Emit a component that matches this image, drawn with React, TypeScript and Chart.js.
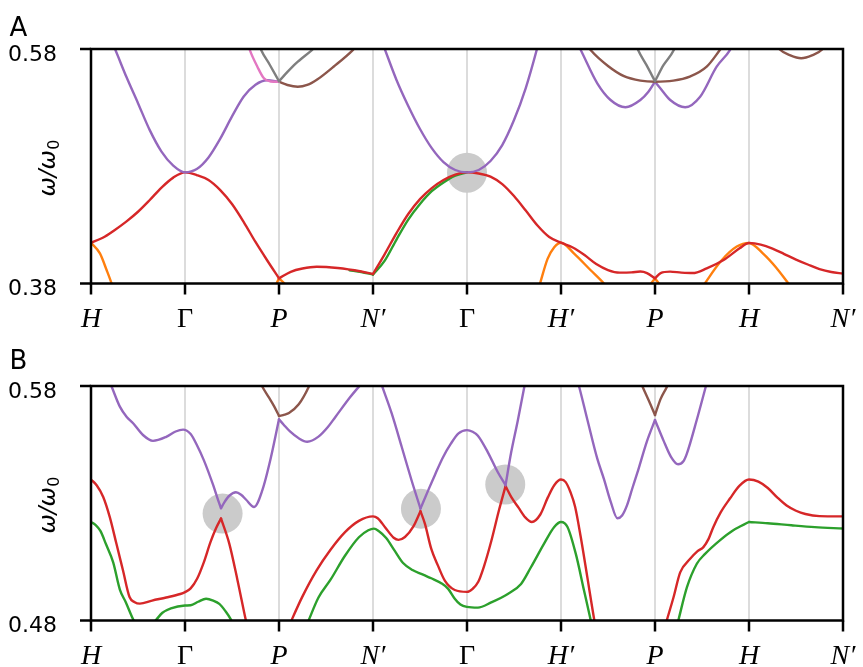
import React, { useEffect, useRef } from 'react';
import { Chart, registerables } from 'chart.js';

Chart.register(...registerables);

type Pt = [number, number];

// ---------- axis / tick data ----------
const TICK_POS = [0, 1, 2, 3, 4, 5, 6, 7, 8];
const TICK_LABELS = ['H', 'Γ', 'P', 'N′', 'Γ', 'H′', 'P', 'H', 'N′'];
const A_Y_TICKS = [0.38, 0.58];
const A_Y_LABELS = ['0.38', '0.58'];
const B_Y_TICKS = [0.48, 0.58];
const B_Y_LABELS = ['0.48', '0.58'];

// ---------- panel A bands (x: path coordinate, y: ω/ω0) ----------
const A_ORANGE: Pt[][] = [
  [[0, 0.4148], [0.095, 0.4057], [0.166, 0.3915], [0.219, 0.38], [0.26, 0.3693]],
  [[1.94, 0.374], [1.97, 0.3793], [2, 0.3844]],
  [[2, 0.3844], [2.07, 0.3787], [2.1, 0.374]],
  [[4.74, 0.37], [4.777, 0.38], [4.857, 0.401], [4.928, 0.411], [5, 0.4148], [5.137, 0.4057], [5.313, 0.3915], [5.456, 0.38], [5.5, 0.3755]],
  [[5.92, 0.374], [5.96, 0.38], [6, 0.3844]],
  [[6, 0.3844], [6.04, 0.38], [6.08, 0.374]],
  [[6.48, 0.374], [6.53, 0.38], [6.7, 0.399], [6.87, 0.4115], [7, 0.4146], [7.15, 0.4055], [7.29, 0.3935], [7.42, 0.38], [7.47, 0.375]],
];
const A_GREEN: Pt[][] = [
  [[2.75, 0.3913], [2.875, 0.3898], [3, 0.3876]],
  [[3, 0.3876], [3.125, 0.3995], [3.25, 0.4175], [3.375, 0.4345], [3.5, 0.4478], [3.625, 0.4587], [3.75, 0.4662], [3.875, 0.472], [4, 0.4748]],
];
const A_RED: Pt[][] = [
  [[0, 0.4148], [0.125, 0.419], [0.25, 0.4255], [0.375, 0.4328], [0.5, 0.4412], [0.625, 0.4512], [0.75, 0.4618], [0.875, 0.4703], [1, 0.4748],
   [1.125, 0.4725], [1.25, 0.4683], [1.375, 0.4597], [1.5, 0.4478], [1.625, 0.4324], [1.75, 0.4154], [1.875, 0.3996], [2, 0.3844]],
  [[2, 0.3844], [2.125, 0.39], [2.25, 0.3928], [2.4, 0.3943], [2.625, 0.3932], [2.875, 0.3902], [3, 0.3881]],
  [[3, 0.3881], [3.125, 0.4051], [3.25, 0.423], [3.375, 0.4393], [3.5, 0.452], [3.625, 0.4614], [3.75, 0.4683], [3.875, 0.4729], [4, 0.4748],
   [4.125, 0.4738], [4.25, 0.4712], [4.375, 0.4648], [4.5, 0.4546], [4.625, 0.4422], [4.75, 0.4294], [4.875, 0.4196], [5, 0.4148],
   [5.125, 0.4107], [5.25, 0.4043], [5.375, 0.3966], [5.5, 0.3915], [5.625, 0.3893], [5.75, 0.3895], [5.844, 0.3902], [5.915, 0.3889], [6, 0.3844]],
  [[6, 0.3844], [6.06, 0.3889], [6.16, 0.3901], [6.28, 0.3893], [6.4, 0.3889], [6.55, 0.3929], [6.73, 0.4], [6.9, 0.41], [7, 0.4145],
   [7.125, 0.4132], [7.25, 0.4098], [7.375, 0.4051], [7.5, 0.4004], [7.625, 0.3962], [7.75, 0.3923], [7.875, 0.3898], [8, 0.3885]],
];
const A_PURPLE: Pt[][] = [
  [[0.125, 0.603], [0.25, 0.581], [0.375, 0.5565], [0.5, 0.5338], [0.625, 0.5108], [0.75, 0.4925], [0.875, 0.4805], [1, 0.4748],
   [1.125, 0.4776], [1.25, 0.4875], [1.375, 0.5035], [1.5, 0.5225], [1.625, 0.5395], [1.75, 0.5495], [1.875, 0.5533], [2, 0.5521]],
  [[3, 0.607], [3.125, 0.58], [3.25, 0.5536], [3.375, 0.5314], [3.5, 0.5118], [3.625, 0.4955], [3.75, 0.4836], [3.875, 0.4768], [4, 0.4748],
   [4.125, 0.4768], [4.25, 0.4845], [4.375, 0.4981], [4.5, 0.5194], [4.625, 0.5467], [4.75, 0.5817], [4.82, 0.604]],
  [[5.1, 0.5962], [5.21, 0.5791], [5.386, 0.5507], [5.527, 0.5365], [5.686, 0.5303], [5.844, 0.5365], [5.93, 0.5435], [6, 0.5521]],
  [[6, 0.5521], [6.05, 0.5472], [6.162, 0.5365], [6.321, 0.5303], [6.48, 0.5393], [6.656, 0.5649], [6.797, 0.5791], [6.9, 0.5962]],
];
const A_BROWN: Pt[][] = [
  [[2, 0.5521], [2.09, 0.5493], [2.2, 0.5478], [2.3, 0.5493], [2.41, 0.5542], [2.58, 0.5649], [2.785, 0.5791], [2.86, 0.586]],
  [[5.2, 0.5919], [5.315, 0.5791], [5.5, 0.5655], [5.67, 0.5568], [5.845, 0.553], [6, 0.5521], [6.195, 0.553], [6.37, 0.5564], [6.55, 0.5649], [6.69, 0.5791], [6.78, 0.589]],
  [[7.25, 0.5877], [7.32, 0.58], [7.44, 0.5745], [7.555, 0.5721], [7.67, 0.5745], [7.785, 0.58], [7.85, 0.5877]],
];
const A_PINK: Pt[][] = [
  [[1.65, 0.5894], [1.69, 0.579], [1.77, 0.5649], [1.84, 0.555], [1.91, 0.5523], [2, 0.5521]],
];
const A_GRAY: Pt[][] = [
  [[1.78, 0.586], [1.81, 0.5792], [1.9, 0.5668], [2, 0.5525]],
  [[2, 0.5525], [2.09, 0.5605], [2.18, 0.5678], [2.35, 0.5791], [2.42, 0.5843]],
  [[5.78, 0.5877], [5.82, 0.5791], [5.91, 0.5662], [6, 0.5525]],
  [[6, 0.5525], [6.09, 0.5662], [6.2, 0.5791], [6.24, 0.5877]],
];
const A_CIRCLES: Pt[] = [[4.0, 0.4745]];

// ---------- panel B bands ----------
const B_GREEN: Pt[][] = [
  [[0, 0.522], [0.05, 0.5207], [0.1, 0.5182], [0.16, 0.5125], [0.236, 0.5048], [0.307, 0.4932], [0.37, 0.4878], [0.448, 0.4805], [0.5, 0.4768],
   [0.58, 0.4757], [0.695, 0.4804], [0.76, 0.4833], [0.85, 0.4852], [1, 0.4864], [1.06, 0.4865], [1.14, 0.488], [1.224, 0.4893], [1.3, 0.4885],
   [1.365, 0.4871], [1.43, 0.484], [1.489, 0.4804], [1.55, 0.475]],
  [[2.25, 0.4735], [2.317, 0.4802], [2.42, 0.4898], [2.55, 0.4975], [2.7, 0.5075], [2.85, 0.5155], [2.95, 0.5185], [3.01, 0.5192], [3.06, 0.5182],
   [3.14, 0.5152], [3.23, 0.5098], [3.32, 0.5045], [3.42, 0.5015], [3.52, 0.4998], [3.62, 0.498], [3.73, 0.4958], [3.8, 0.4935], [3.87, 0.4893],
   [3.93, 0.4868], [4, 0.4858], [4.116, 0.4855], [4.257, 0.4877], [4.434, 0.4913], [4.575, 0.4956], [4.68, 0.5027], [4.82, 0.5128], [4.928, 0.5199],
   [5, 0.522], [5.069, 0.5199], [5.157, 0.5085], [5.245, 0.4928], [5.315, 0.4803], [5.38, 0.469]],
  [[6.15, 0.4645], [6.25, 0.4803], [6.34, 0.4942], [6.445, 0.5042], [6.53, 0.5083], [6.69, 0.5142], [6.833, 0.5185], [7, 0.522]],
  [[7, 0.522], [7.2, 0.5215], [7.45, 0.5206], [7.7, 0.5198], [8, 0.5192]],
];
const B_RED: Pt[][] = [
  [[0, 0.5401], [0.06, 0.5377], [0.13, 0.5327], [0.2, 0.5241], [0.27, 0.5128], [0.34, 0.5014], [0.41, 0.49], [0.465, 0.4878], [0.52, 0.4872],
   [0.65, 0.4885], [0.8, 0.4898], [0.95, 0.4913], [1, 0.4921], [1.06, 0.4937], [1.13, 0.4979], [1.2, 0.5048], [1.27, 0.5133], [1.33, 0.5193], [1.383, 0.5235]],
  [[1.383, 0.5235], [1.471, 0.5128], [1.559, 0.4971], [1.648, 0.48], [1.7, 0.471], [1.75, 0.462]],
  [[2.08, 0.475], [2.14, 0.4807], [2.25, 0.4903], [2.4, 0.5014], [2.55, 0.5103], [2.7, 0.5176], [2.85, 0.5225], [3, 0.5244], [3.05, 0.5236],
   [3.13, 0.5197], [3.22, 0.5153], [3.27, 0.5144], [3.34, 0.5156], [3.43, 0.5201], [3.505, 0.5266]],
  [[3.505, 0.5266], [3.552, 0.5213], [3.62, 0.5105], [3.69, 0.5035], [3.764, 0.497], [3.87, 0.493], [4, 0.4922], [4.06, 0.4935], [4.12, 0.4965],
   [4.18, 0.503], [4.26, 0.5141], [4.34, 0.527], [4.41, 0.5373]],
  [[4.41, 0.5373], [4.47, 0.5327], [4.55, 0.528], [4.62, 0.524], [4.69, 0.522], [4.78, 0.5252], [4.86, 0.5325], [4.93, 0.5378], [5, 0.5401],
   [5.05, 0.539], [5.1, 0.5348], [5.15, 0.5285], [5.21, 0.5156], [5.28, 0.4985], [5.35, 0.4812], [5.42, 0.466]],
  [[6.06, 0.4712], [6.127, 0.4803], [6.198, 0.49], [6.268, 0.5005], [6.374, 0.5063], [6.45, 0.5095], [6.515, 0.5113], [6.57, 0.5148], [6.62, 0.5198],
   [6.7, 0.5262], [6.797, 0.532], [6.9, 0.5375], [7, 0.5401], [7.1, 0.5392], [7.2, 0.5365], [7.3, 0.5325], [7.4, 0.529], [7.5, 0.5268],
   [7.6, 0.5254], [7.75, 0.5245], [8, 0.5244]],
];
const B_PURPLE: Pt[][] = [
  [[0.15, 0.5865], [0.22, 0.5797], [0.307, 0.5712], [0.38, 0.5668], [0.448, 0.5641], [0.553, 0.5591], [0.659, 0.5566], [0.8, 0.5583], [0.9, 0.5606],
   [0.98, 0.5614], [1.06, 0.5595], [1.13, 0.5545], [1.2, 0.5484], [1.3, 0.5377], [1.355, 0.531], [1.383, 0.5279]],
  [[1.383, 0.5279], [1.42, 0.5305], [1.471, 0.5332], [1.542, 0.5347], [1.6, 0.5335], [1.648, 0.5316], [1.735, 0.5284], [1.823, 0.5356], [1.912, 0.5492], [2, 0.5658]],
  [[2, 0.5658], [2.05, 0.5635], [2.12, 0.5605], [2.21, 0.5577], [2.3, 0.5562], [2.42, 0.5584], [2.52, 0.5625], [2.6, 0.5668], [2.76, 0.5754], [2.865, 0.5804], [2.95, 0.5843]],
  [[3.02, 0.589], [3.093, 0.5804], [3.199, 0.5683], [3.305, 0.5541], [3.41, 0.5398], [3.505, 0.5277]],
  [[3.505, 0.5277], [3.587, 0.5355], [3.66, 0.5422], [3.745, 0.5496], [3.83, 0.5555], [3.91, 0.5598], [4, 0.5612], [4.06, 0.5605], [4.116, 0.5588],
   [4.222, 0.5517], [4.328, 0.5432], [4.41, 0.5377]],
  [[4.41, 0.5377], [4.469, 0.5515], [4.54, 0.5652], [4.61, 0.5797], [4.66, 0.5905]],
  [[5.1, 0.5925], [5.193, 0.5797], [5.28, 0.5657], [5.386, 0.549], [5.457, 0.5403], [5.53, 0.5305], [5.6, 0.5236], [5.65, 0.5248], [5.703, 0.5292],
   [5.76, 0.5365], [5.81, 0.5427], [5.915, 0.5565], [6, 0.5655]],
  [[6, 0.5655], [6.092, 0.5566], [6.17, 0.5498], [6.245, 0.5466], [6.3, 0.5478], [6.339, 0.5512], [6.444, 0.5655], [6.54, 0.5797], [6.6, 0.5885]],
];
const B_BROWN: Pt[][] = [
  [[1.76, 0.585], [1.823, 0.5797], [1.894, 0.575], [1.95, 0.5712], [2, 0.5672]],
  [[2, 0.5672], [2.06, 0.5678], [2.106, 0.5685], [2.21, 0.5722], [2.317, 0.5797], [2.37, 0.585]],
  [[5.8, 0.586], [5.87, 0.5795], [5.935, 0.5737], [6, 0.5676]],
  [[6, 0.5676], [6.06, 0.5745], [6.127, 0.5797], [6.18, 0.585]],
];
const B_CIRCLES: Pt[] = [[1.4, 0.5256], [3.51, 0.5277], [4.407, 0.538]];

// ---------- styles ----------
const ORANGE = '#ff7f0e';
const GREEN = '#2ca02c';
const RED = '#d62728';
const PURPLE = '#9467bd';
const BROWN = '#8c564b';
const PINK = '#e377c2';
const GRAY = '#7f7f7f';
const CIRCLE = '#cbcbcb';
const GRID = '#dcdcdc';

const W = 863;
const H = 330;
const PAD = { left: 91, right: 16, top: 49, bottom: 46.5 };

type PanelCfg = {
  bands: [Pt[][], string, number][];
  circles: Pt[];
  yTicks: number[];
  yLabels: string[];
  letter: string;
  letterY: number;
};

const PANEL_A: PanelCfg = {
  bands: [[A_ORANGE, ORANGE, 7], [A_GREEN, GREEN, 6], [A_RED, RED, 5], [A_PURPLE, PURPLE, 4], [A_BROWN, BROWN, 3], [A_PINK, PINK, 2], [A_GRAY, GRAY, 1]],
  circles: A_CIRCLES,
  yTicks: A_Y_TICKS,
  yLabels: A_Y_LABELS,
  letter: 'A',
  letterY: 36,
};
const PANEL_B: PanelCfg = {
  bands: [[B_GREEN, GREEN, 6], [B_RED, RED, 5], [B_PURPLE, PURPLE, 4], [B_BROWN, BROWN, 3]],
  circles: B_CIRCLES,
  yTicks: B_Y_TICKS,
  yLabels: B_Y_LABELS,
  letter: 'B',
  letterY: 32,
};

function axesPlugin(cfg: PanelCfg) {
  return {
    id: 'mplAxes' + cfg.letter,
    beforeDatasetsDraw(chart: any) {
      const { ctx, chartArea: a } = chart;
      const xs = chart.scales.x;
      ctx.save();
      ctx.strokeStyle = GRID;
      ctx.lineWidth = 2;
      TICK_POS.slice(1, -1).forEach((t) => {
        const px = xs.getPixelForValue(t);
        ctx.beginPath();
        ctx.moveTo(px, a.top);
        ctx.lineTo(px, a.bottom);
        ctx.stroke();
      });
      ctx.restore();
    },
    afterDatasetsDraw(chart: any) {
      const { ctx, chartArea: a } = chart;
      const xs = chart.scales.x;
      const ys = chart.scales.y;
      ctx.save();
      ctx.strokeStyle = '#000';
      ctx.fillStyle = '#000';
      ctx.lineWidth = 2.5;
      ctx.lineCap = 'butt';
      ctx.strokeRect(a.left, a.top, a.right - a.left, a.bottom - a.top);
      // x ticks + labels
      TICK_POS.forEach((t, i) => {
        const px = xs.getPixelForValue(t);
        ctx.beginPath();
        ctx.moveTo(px, a.bottom);
        ctx.lineTo(px, a.bottom + 11);
        ctx.stroke();
        const lab = TICK_LABELS[i];
        ctx.font = lab === 'Γ' ? '28px "Liberation Serif"' : 'italic 28px "Liberation Serif"';
        ctx.textAlign = 'center';
        ctx.textBaseline = 'alphabetic';
        ctx.fillText(lab, px, a.bottom + 43.5);
      });
      // y ticks + labels
      cfg.yTicks.forEach((v, i) => {
        const py = ys.getPixelForValue(v);
        ctx.beginPath();
        ctx.moveTo(a.left, py);
        ctx.lineTo(a.left - 11, py);
        ctx.stroke();
        ctx.font = '22px "DejaVu Sans"';
        ctx.textAlign = 'right';
        ctx.textBaseline = 'alphabetic';
        ctx.fillText(cfg.yLabels[i], a.left - 34, py + 11.5);
      });
      // y axis label
      ctx.save();
      ctx.translate(54.5, (a.top + a.bottom) / 2 + 2);
      ctx.rotate(-Math.PI / 2);
      const f1 = 'italic 23px "DejaVu Sans"';
      const f2 = '16px "DejaVu Sans"';
      ctx.font = f1;
      const w1 = ctx.measureText('ω/ω').width;
      ctx.font = f2;
      const w2 = ctx.measureText('0').width;
      const start = -(w1 + w2) / 2;
      ctx.textAlign = 'left';
      ctx.font = f1;
      ctx.fillText('ω/ω', start, 0);
      ctx.font = f2;
      ctx.fillText('0', start + w1 + 0.5, 4);
      ctx.restore();
      // panel letter
      ctx.font = '26px "DejaVu Sans"';
      ctx.textAlign = 'left';
      ctx.fillText(cfg.letter, 9.5, cfg.letterY);
      ctx.restore();
    },
  };
}

function buildConfig(cfg: PanelCfg): any {
  const datasets: any[] = [];
  cfg.bands.forEach(([pieces, color, order]) => {
    pieces.forEach((p) => {
      datasets.push({
        data: p.map(([x, y]) => ({ x, y })),
        borderColor: color,
        backgroundColor: color,
        borderWidth: 2.4,
        pointRadius: 0,
        fill: false,
        cubicInterpolationMode: 'monotone',
        borderCapStyle: 'round',
        borderJoinStyle: 'round',
        order,
        clip: 0,
      });
    });
  });
  datasets.push({
    data: cfg.circles.map(([x, y]) => ({ x, y })),
    showLine: false,
    pointRadius: 20,
    pointBackgroundColor: CIRCLE,
    pointBorderWidth: 0,
    pointBorderColor: CIRCLE,
    order: 100,
    clip: 0,
  });
  return {
    type: 'line',
    data: { datasets },
    options: {
      animation: false,
      responsive: false,
      devicePixelRatio: 1,
      events: [],
      layout: { padding: PAD },
      scales: {
        x: { type: 'linear', min: TICK_POS[0], max: TICK_POS[TICK_POS.length - 1], display: false },
        y: { type: 'linear', min: cfg.yTicks[0], max: cfg.yTicks[1], display: false },
      },
      elements: { line: { capBezierPoints: false } },
      plugins: { legend: { display: false }, tooltip: { enabled: false } },
    },
    plugins: [axesPlugin(cfg)],
  };
}

function Panel({ cfg, top }: { cfg: PanelCfg; top: number }) {
  const ref = useRef<HTMLCanvasElement | null>(null);
  useEffect(() => {
    if (!ref.current) return;
    const chart = new Chart(ref.current, buildConfig(cfg));
    return () => chart.destroy();
  }, [cfg]);
  return (
    <canvas
      ref={ref}
      width={W}
      height={H}
      style={{ position: 'absolute', left: 0, top, width: W, height: H }}
    />
  );
}

export default function App() {
  return (
    <div style={{ position: 'absolute', left: 0, top: 0, width: 863, height: 667, background: '#fff' }}>
      <Panel cfg={PANEL_A} top={0} />
      <Panel cfg={PANEL_B} top={337} />
    </div>
  );
}
